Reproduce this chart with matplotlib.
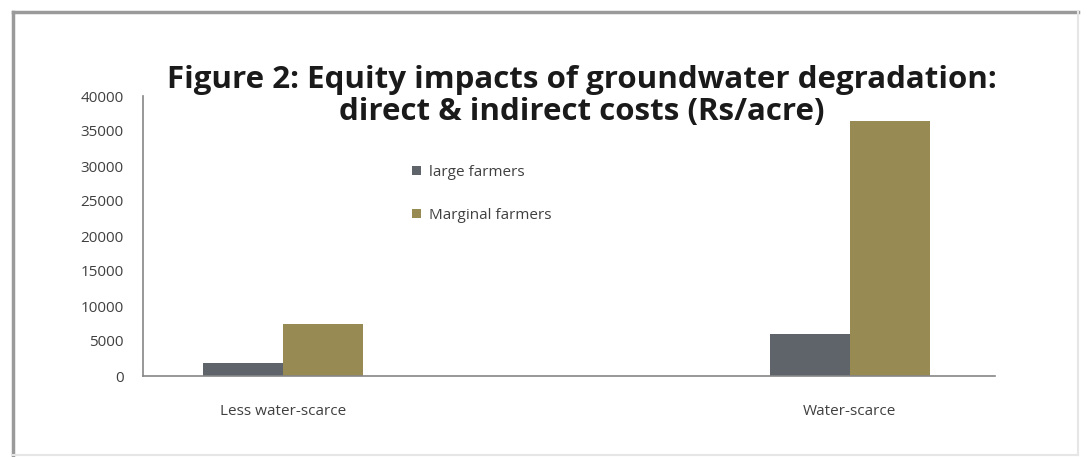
import matplotlib.pyplot as plt
import numpy as np
from matplotlib.lines import Line2D

categories = ['Less water-scarce', 'Water-scarce']
large_farmers = [1900, 6000]
marginal_farmers = [7500, 36500]
yticks = [0, 5000, 10000, 15000, 20000, 25000, 30000, 35000, 40000]

plt.rcParams['font.family'] = ['Open Sans', 'DejaVu Sans']

W, H = 1087, 457
fig = plt.figure(figsize=(W / 100, H / 100), dpi=100)

# cadre: esquerda e topo mais escuros, direita e base bem claros
def linha(x0, y0, x1, y1, cor, lw):
    fig.lines.append(Line2D([x0 / W, x1 / W], [1 - y0 / H, 1 - y1 / H],
                            transform=fig.transFigure, color=cor, linewidth=lw))

linha(13, 12, 1078, 12, '#9a9a9a', 2.5)
linha(13, 12, 13, 455, '#9a9a9a', 2.5)
linha(1078, 12, 1078, 455, '#e6e6e6', 1.5)
linha(13, 455, 1078, 455, '#e6e6e6', 1.5)

ax = fig.add_axes([143 / W, 81 / H, 852 / W, 280 / H])

x = np.arange(len(categories))
largura = 0.141
ax.bar(x - largura / 2, large_farmers, largura, color='#5f646b', label='large farmers')
ax.bar(x + largura / 2, marginal_farmers, largura, color='#978a52', label='Marginal farmers')

ax.set_xlim(-0.247, 1.256)
ax.set_ylim(0, 40000)
ax.set_yticks(yticks)
ax.set_xticks(x)
ax.set_xticklabels(categories)
ax.tick_params(axis='both', length=0, labelsize=11, colors='#404040')
ax.tick_params(axis='x', pad=20)
ax.tick_params(axis='y', pad=14)

for lado in ['top', 'right']:
    ax.spines[lado].set_visible(False)
for lado in ['left', 'bottom']:
    ax.spines[lado].set_color('#868686')
    ax.spines[lado].set_linewidth(1.2)

fig.text(582 / W, 1 - 96 / H, 'Figure 2: Equity impacts of groundwater degradation:\ndirect & indirect costs (Rs/acre)',
         ha='center', va='center', fontsize=22.5, fontweight='bold', color='#1a1a1a',
         linespacing=1.08)

ax.legend(loc='upper left', bbox_to_anchor=(398 / W, 1 - 151 / H), bbox_transform=fig.transFigure,
          frameon=False, fontsize=11, handlelength=0.6, handleheight=0.6,
          labelspacing=1.85, handletextpad=0.5, labelcolor='#404040')

fig.savefig('out.png', dpi=100)
